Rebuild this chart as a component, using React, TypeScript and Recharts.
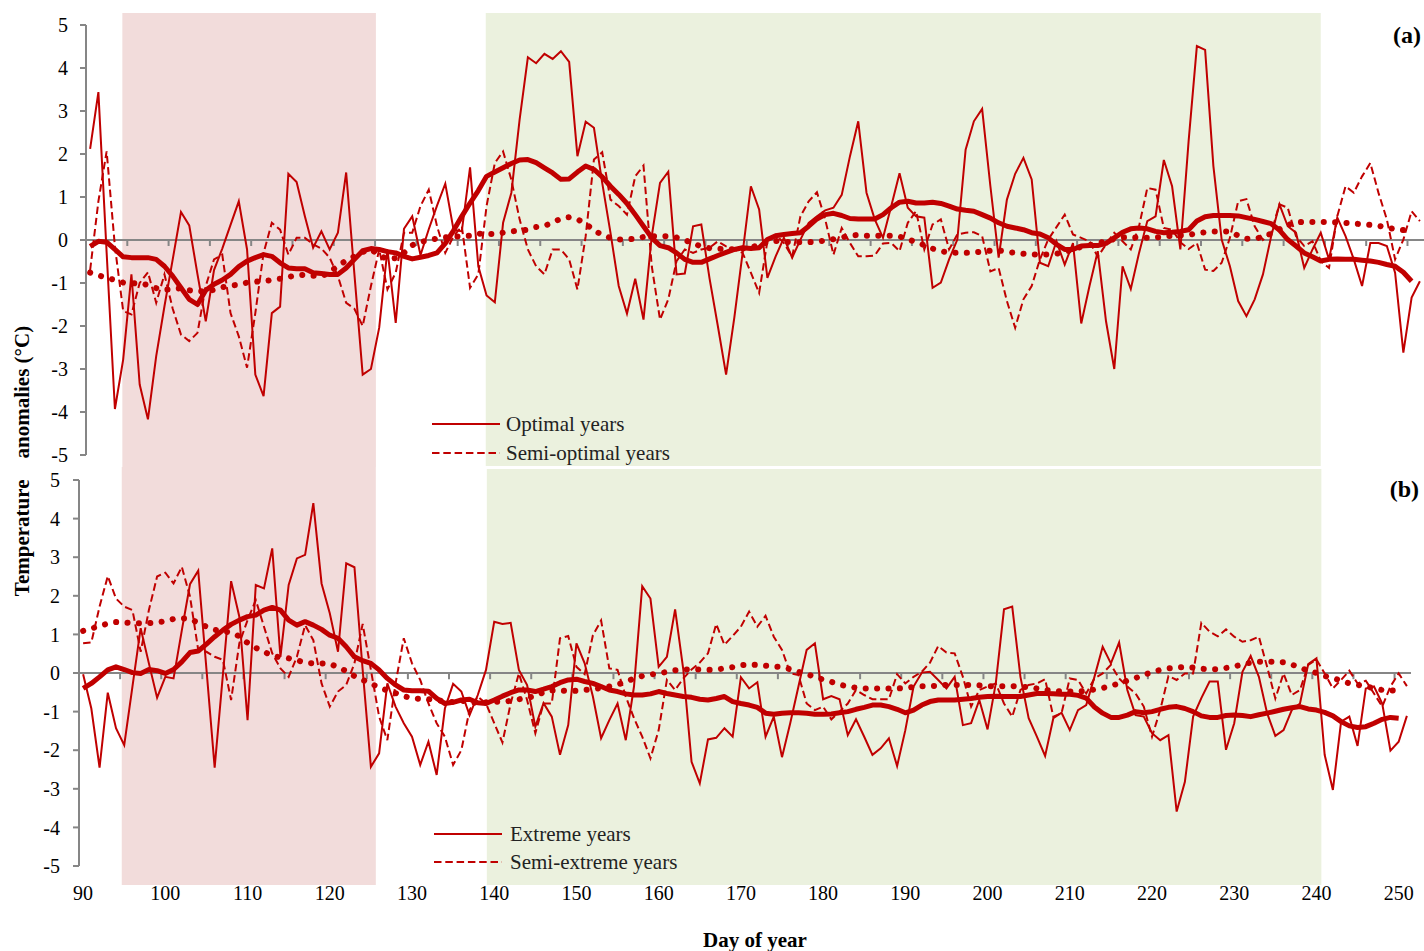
import React from "react";
import {
  LineChart,
  Line,
  XAxis,
  YAxis,
  ReferenceArea,
  ReferenceLine,
  Legend,
} from "recharts";

// day of year, 90..251
const DAYS = Array.from({ length: 162 }, (_, i) => 90 + i);
const X_LABELS = [90, 100, 110, 120, 130, 140, 150, 160, 170, 180, 190, 200, 210, 220, 230, 240, 250];
const Y_TICKS = [-5, -4, -3, -2, -1, 0, 1, 2, 3, 4, 5];
// small tick marks sit between categories on the zero line
const ZERO_TICKS = Array.from({ length: 32 }, (_, i) => 94.5 + 5 * i);

// (a) optimal / semi-optimal years, daily anomalies
const OPTIMAL = [
  2.12, 3.44, -0.3, -3.93, -2.78, -0.8, -3.36, -4.17, -2.7, -1.54,
  -0.45, 0.65, 0.34, -0.8, -1.89, -0.7, -0.2, 0.35, 0.9, -0.22,
  -3.13, -3.63, -1.7, -1.55, 1.54, 1.35, 0.55, -0.18, 0.2, -0.22,
  0.17, 1.57, -0.8, -3.13, -3.0, -2.04, -0.22, -1.93, 0.26, 0.55,
  -0.35, 0.25, 0.8, 1.31, 0.24, 0.2, 1.69, -0.61, -1.29, -1.45,
  0.4, 1.1, 2.8, 4.25, 4.11, 4.33, 4.21, 4.39, 4.14, 1.95,
  2.75, 2.61, 1.33, 0.17, -1.07, -1.71, -0.9, -1.85, 0.09, 1.33,
  1.59, -0.8, -0.78, 0.32, 0.36, -0.9, -2.0, -3.13, -1.8, -0.3,
  1.25, 0.71, -0.88, -0.38, 0.05, -0.41, 0.01, 0.4, 0.55, 0.69,
  0.75, 1.05, 1.95, 2.76, 1.1, 0.48, 0.05, 0.79, 1.55, 0.75,
  0.55, 0.52, -1.11, -0.99, -0.45, 0.01, 2.1, 2.76, 3.05, 1.25,
  -0.41, 0.94, 1.54, 1.91, 1.41, -0.53, -0.61, -0.03, -0.57, -0.07,
  -1.94, -1.07, -0.26, -1.89, -3.0, -0.61, -1.14, -0.3, 0.44, 0.55,
  1.86, 1.25, -0.22, 2.3, 4.51, 4.42, 1.72, 0.01, -0.61, -1.42,
  -1.77, -1.38, -0.8, 0.09, 0.83, 0.32, 0.17, -0.65, -0.22, 0.17,
  -0.45, 0.52, 0.09, -0.45, -1.07, -0.07, -0.07, -0.14, -0.76, -2.62,
  -1.34, -0.96,
];
const SEMI_OPTIMAL = [
  -0.7, 0.9, 2.06, -0.15, -1.65, -1.73, -1.0, -0.75, -1.46, -0.8,
  -1.6, -2.2, -2.35, -2.16, -1.07, -0.45, -0.34, -1.7, -2.24, -2.97,
  -1.7, -0.3, 0.4, 0.24, -0.34, 0.05, 0.05, -0.1, -0.2, -0.41,
  -0.84, -1.46, -1.6, -2.0, -1.07, -0.22, -1.15, -0.76, 0.17, 0.17,
  0.79, 1.17, 0.32, -0.3, 0.09, 0.32, -1.11, -0.8, 0.79, 1.79,
  2.06, 1.4, 0.48, -0.22, -0.61, -0.8, -0.22, -0.22, -0.45, -1.15,
  0.09, 1.87, 2.04, 0.94, 0.79, 0.59, 1.48, 1.73, -0.61, -1.85,
  -1.38, -0.49, -0.22, -0.3, -0.22, -0.18, -0.03, -0.15, -0.22, -0.3,
  -0.76, -1.23, -0.03, 0.12, -0.07, -0.39, 0.55, 0.9, 1.11, 0.48,
  -0.34, 0.28, -0.07, -0.38, -0.38, -0.36, -0.08, -0.07, -0.26, 0.4,
  0.67, -0.22, 0.36, 0.48, -0.22, 0.13, 0.17, 0.18, 0.09, -0.73,
  -0.65, -1.42, -2.04, -1.38, -1.07, -0.45, 0.01, 0.3, 0.59, 0.13,
  0.05, -0.03, -0.39, -0.1, 0.17, -0.03, -0.22, 0.32, 1.21, 1.17,
  0.28, 0.24, -0.05, -0.21, -0.07, -0.69, -0.72, -0.53, 0.05, 0.9,
  0.95, 0.32, 0.0, 0.17, 0.83, 0.75, 0.09, -0.14, -0.03, -0.49,
  -0.65, 0.55, 1.25, 1.1, 1.48, 1.79, 1.09, 0.48, -0.45, 0.01,
  0.67, 0.44,
];
// smoothed curves, days 90..250
const OPTIMAL_AVG = [
  -0.15, -0.03, -0.05, -0.22, -0.39, -0.41, -0.41, -0.41, -0.45, -0.61,
  -0.84, -1.11, -1.38, -1.5, -1.17, -1.03, -0.93, -0.8, -0.62, -0.49,
  -0.41, -0.34, -0.38, -0.53, -0.65, -0.67, -0.67, -0.76, -0.78, -0.8,
  -0.8, -0.65, -0.45, -0.25, -0.2, -0.22, -0.27, -0.3, -0.38, -0.44,
  -0.4, -0.36, -0.3, -0.08, 0.22, 0.55, 0.86, 1.15, 1.48, 1.58,
  1.68, 1.78, 1.86, 1.87, 1.8, 1.68, 1.56, 1.41, 1.42, 1.58,
  1.72, 1.64, 1.47, 1.25, 1.06, 0.85, 0.59, 0.32, 0.05, -0.13,
  -0.18, -0.3, -0.45, -0.52, -0.52, -0.44, -0.36, -0.29, -0.22, -0.18,
  -0.2, -0.18, 0.01, 0.1, 0.13, 0.15, 0.17, 0.32, 0.49, 0.59,
  0.62, 0.57, 0.5, 0.49, 0.49, 0.49, 0.59, 0.75, 0.88, 0.9,
  0.86, 0.86, 0.88, 0.85, 0.79, 0.72, 0.69, 0.67, 0.59, 0.51,
  0.4, 0.32, 0.28, 0.24, 0.17, 0.14, 0.05, -0.1, -0.22, -0.22,
  -0.14, -0.13, -0.13, -0.08, 0.05, 0.18, 0.26, 0.28, 0.26, 0.2,
  0.17, 0.18, 0.2, 0.24, 0.44, 0.54, 0.57, 0.57, 0.57, 0.56,
  0.52, 0.48, 0.43, 0.38, 0.23, 0.01, -0.14, -0.3, -0.39, -0.49,
  -0.45, -0.44, -0.45, -0.45, -0.47, -0.49, -0.52, -0.57, -0.61, -0.75,
  -0.96,
];
const SEMI_OPTIMAL_AVG = [
  -0.76, -0.82, -0.88, -0.93, -0.99, -1.01, -1.0, -1.05, -1.12, -1.16,
  -1.14, -1.12, -1.17, -1.19, -1.19, -1.16, -1.1, -1.06, -1.04, -0.99,
  -0.97, -0.96, -0.93, -0.9, -0.86, -0.82, -0.81, -0.83, -0.85, -0.75,
  -0.6, -0.48, -0.38, -0.28, -0.22, -0.35, -0.45, -0.42, -0.3, -0.12,
  -0.05, 0.0, 0.03, 0.06, 0.08, 0.08, 0.1, 0.15, 0.14, 0.14,
  0.17, 0.2, 0.22, 0.24, 0.3, 0.33, 0.4, 0.5, 0.53, 0.48,
  0.38, 0.22, 0.12, 0.05, 0.01, 0.01, 0.03, 0.07, 0.09, 0.09,
  0.09, 0.06, 0.0, -0.08, -0.15, -0.19, -0.2, -0.22, -0.21, -0.2,
  -0.17, -0.12, -0.05, -0.02, -0.04, -0.05, -0.05, -0.05, -0.04, -0.01,
  0.02, 0.06, 0.1, 0.12, 0.1, 0.1, 0.1, 0.1, 0.08, 0.02,
  -0.05, -0.12, -0.2, -0.26, -0.29, -0.3, -0.3, -0.29, -0.27, -0.25,
  -0.24, -0.27, -0.3, -0.32, -0.34, -0.34, -0.34, -0.32, -0.28, -0.22,
  -0.16, -0.12, -0.07, -0.03, 0.02, 0.06, 0.07, 0.05, 0.05, 0.06,
  0.08, 0.1, 0.11, 0.12, 0.15, 0.18, 0.2, 0.2, 0.2, 0.1,
  0.03, 0.03, 0.07, 0.15, 0.25, 0.35, 0.41, 0.42, 0.42, 0.42,
  0.42, 0.41, 0.4, 0.38, 0.37, 0.35, 0.33, 0.29, 0.25, 0.23,
  0.23,
];

// (b) extreme / semi-extreme years
const EXTREME = [
  -0.03, -0.92, -2.45, -0.51, -1.43, -1.87, -0.35, 1.16, 0.25, -0.64,
  -0.1, -0.14, 1.1, 2.3, 2.65, 0.1, -2.45, -0.05, 2.38, 1.46,
  -1.22, 2.28, 2.19, 3.23, 0.42, 2.28, 2.97, 3.06, 4.4, 2.32,
  1.55, 0.55, 2.84, 2.74, 0.08, -2.43, -2.08, -0.27, -0.87, -1.3,
  -1.65, -2.38, -1.78, -2.64, -0.92, -0.28, -0.48, -1.09, -0.57, 0.08,
  1.33, 1.27, 1.3, 0.08, -0.31, -1.39, -0.78, -1.13, -2.12, -1.35,
  0.77, 0.25, -0.61, -1.69, -1.22, -0.79, -1.74, -0.35, 2.25, 1.93,
  0.16, 0.42, 1.65, 0.08, -2.3, -2.86, -1.72, -1.68, -1.43, -1.65,
  -0.11, -0.4, -0.24, -1.65, -1.13, -2.18, -1.3, -0.35, 0.6, 0.77,
  -0.68, -0.6, -0.68, -1.61, -1.2, -1.65, -2.12, -1.95, -1.69, -2.41,
  -1.48, -0.35, 0.01, 0.03, -0.18, -0.4, -0.1, -1.35, -1.3, -0.7,
  -1.46, -0.27, 1.65, 1.72, -0.1, -1.17, -1.65, -2.15, -1.17, -1.03,
  -1.48, -0.96, -0.83, -0.1, 0.68, 0.25, 0.79, -0.44, -1.09, -1.13,
  -1.56, -1.74, -1.61, -3.59, -2.82, -1.13, -0.65, -0.22, -0.22, -1.99,
  -1.3, 0.03, 0.44, -0.1, -1.04, -1.63, -1.48, -0.96, -0.79, 0.23,
  0.38, -2.12, -3.03, -1.26, -1.13, -1.89, -0.4, -0.35, -0.79, -2.01,
  -1.78, -1.11,
];
const SEMI_EXTREME = [
  0.77, 0.79, 1.72, 2.51, 1.93, 1.72, 1.63, 0.55, 1.63, 2.5,
  2.6, 2.32, 2.75, 1.98, 0.6, 0.55, 0.42, 0.34, -0.7, 0.77,
  1.37, 1.89, 1.2, 0.51, 0.12, -0.1, 0.42, 1.24, 0.85, -0.27,
  -0.87, -0.48, -0.31, 0.25, 1.27, 0.08, -1.13, -1.74, -0.27, 0.9,
  0.25, -0.18, -0.79, -1.3, -1.65, -2.38, -2.0, -0.96, -0.61, -0.79,
  -1.3, -1.8, -0.79, -0.01, -0.7, -1.56, -0.79, -0.79, 0.9, 0.96,
  0.16, -0.03, 0.98, 1.36, 0.12, 0.08, -0.61, -1.17, -1.65, -2.21,
  -1.48, -0.18, -0.44, -0.14, 0.09, 0.27, 0.51, 1.27, 0.73, 0.96,
  1.2, 1.59, 1.2, 1.48, 0.94, 0.6, -0.01, -0.05, -0.79, -0.96,
  -0.87, -1.2, -1.0, -0.79, -0.44, -0.57, -0.68, -0.68, -0.68, -0.03,
  -0.27, -0.1, 0.03, 0.27, 0.7, 0.53, 0.51, -0.1, -0.87, -0.44,
  -0.35, -0.27, -0.79, -1.13, -0.44, -0.31, -0.27, -0.16, -1.13, -1.04,
  -0.14, -0.18, -0.53, -0.14, -0.01, 0.21, -0.14, -0.35, -0.53, -0.87,
  -1.65, -0.96, -0.08, -0.18, -0.01, -0.01, 1.3, 1.07, 0.95, 1.13,
  0.94, 0.81, 0.85, 0.94, 0.16, -0.66, -0.01, -0.57, -0.44, 0.21,
  0.35, -0.01, -0.4, -0.18, 0.06, -0.27, -0.2, -0.53, -0.87, -0.35,
  -0.01, -0.34,
];
const EXTREME_AVG = [
  -0.4, -0.27, -0.1, 0.08, 0.16, 0.09, 0.01, -0.01, 0.09, 0.06,
  -0.01, 0.09, 0.29, 0.53, 0.57, 0.75, 0.94, 1.11, 1.26, 1.37,
  1.46, 1.5, 1.63, 1.7, 1.63, 1.37, 1.24, 1.33, 1.24, 1.13,
  0.98, 0.9, 0.68, 0.42, 0.32, 0.25, 0.08, -0.14, -0.31, -0.44,
  -0.46, -0.46, -0.47, -0.66, -0.79, -0.76, -0.7, -0.68, -0.77, -0.79,
  -0.7, -0.6, -0.51, -0.44, -0.44, -0.48, -0.42, -0.35, -0.25, -0.18,
  -0.16, -0.22, -0.27, -0.35, -0.44, -0.48, -0.54, -0.57, -0.57, -0.54,
  -0.48, -0.53, -0.57, -0.61, -0.63, -0.68, -0.7, -0.66, -0.61, -0.74,
  -0.79, -0.83, -0.89, -1.04, -1.07, -1.04, -1.03, -1.03, -1.04, -1.07,
  -1.07, -1.06, -1.03, -1.0, -0.94, -0.89, -0.83, -0.83, -0.87, -0.94,
  -1.03, -0.96, -0.83, -0.74, -0.7, -0.7, -0.7, -0.68, -0.66, -0.63,
  -0.61, -0.6, -0.61, -0.61, -0.61, -0.57, -0.53, -0.53, -0.54, -0.55,
  -0.55, -0.58, -0.65, -0.88, -1.04, -1.15, -1.15, -1.09, -1.0, -1.03,
  -1.0, -0.94, -0.89, -0.87, -0.92, -1.0, -1.11, -1.15, -1.15, -1.1,
  -1.09, -1.1, -1.13, -1.08, -1.04, -0.99, -0.94, -0.9, -0.87, -0.93,
  -0.96, -1.02, -1.11, -1.26, -1.37, -1.41, -1.39, -1.3, -1.2, -1.15,
  -1.17,
];
const SEMI_EXTREME_AVG = [
  1.09, 1.15, 1.22, 1.28, 1.32, 1.31, 1.29, 1.29, 1.29, 1.31,
  1.34, 1.4, 1.42, 1.4, 1.3, 1.2, 1.12, 1.08, 1.05, 0.95,
  0.78, 0.65, 0.55, 0.45, 0.4, 0.38, 0.33, 0.27, 0.25, 0.25,
  0.24, 0.15, 0.05, -0.08, -0.18, -0.27, -0.38, -0.45, -0.52, -0.6,
  -0.65, -0.67, -0.68, -0.7, -0.74, -0.75, -0.72, -0.75, -0.78, -0.76,
  -0.74, -0.75, -0.72, -0.68, -0.64, -0.6, -0.5, -0.45, -0.45, -0.47,
  -0.46, -0.44, -0.42, -0.39, -0.35, -0.3, -0.23, -0.14, -0.08, -0.04,
  -0.01, 0.03, 0.07, 0.09, 0.09, 0.09, 0.08, 0.09, 0.12, 0.15,
  0.2, 0.22, 0.21, 0.19, 0.17, 0.15, 0.1, 0.03, -0.03, -0.1,
  -0.17, -0.23, -0.3, -0.35, -0.38, -0.4, -0.4, -0.4, -0.4, -0.4,
  -0.39, -0.36, -0.34, -0.34, -0.33, -0.31, -0.31, -0.31, -0.31, -0.32,
  -0.34, -0.34, -0.34, -0.34, -0.35, -0.37, -0.4, -0.44, -0.46, -0.48,
  -0.48, -0.48, -0.46, -0.43, -0.39, -0.33, -0.27, -0.2, -0.13, -0.05,
  0.02, 0.08, 0.12, 0.14, 0.16, 0.14, 0.11, 0.1, 0.1, 0.13,
  0.17, 0.22, 0.27, 0.29, 0.29, 0.29, 0.28, 0.22, 0.14, 0.06,
  0.0, -0.08, -0.13, -0.2, -0.27, -0.31, -0.34, -0.4, -0.44, -0.45,
  -0.47,
];

// shaded periods (days), per panel
const PINK_A = [93.9, 124.6];
const GREEN_A = [137.9, 239.0];
const PINK_B = [94.7, 125.6];
const GREEN_B = [139.1, 240.6];

const RED = "#c00000";
const GREY = "#868686";
const PINK = "#f2dcdb";
const GREEN = "#ebf1de";
const FONT = '"Liberation Serif", "Times New Roman", serif';
const DASH = "7.5 3.8";

function buildRows(daily: number[], semi: number[], avg: number[], semiAvg: number[]) {
  return DAYS.map((day, i) => ({
    day,
    daily: daily[i] ?? null,
    semi: semi[i] ?? null,
    avg: avg[i] ?? null,
    semiAvg: semiAvg[i] ?? null,
  }));
}

// eslint-disable-next-line @typescript-eslint/no-explicit-any
function SeriesLegend({ payload, gap, rowHeight }: any) {
  // eslint-disable-next-line @typescript-eslint/no-explicit-any
  const items = (payload ?? []).filter((p: any) => p.dataKey === "daily" || p.dataKey === "semi");
  return (
    <div>
      {/* eslint-disable-next-line @typescript-eslint/no-explicit-any */}
      {items.map((p: any) => (
        <div key={p.dataKey} style={{ display: "flex", alignItems: "center", height: rowHeight }}>
          <svg width={68} height={6} style={{ display: "block" }}>
            <line
              x1={0}
              y1={3}
              x2={68}
              y2={3}
              stroke={RED}
              strokeWidth={2}
              strokeDasharray={p.dataKey === "semi" ? DASH : undefined}
            />
          </svg>
          <span style={{ marginLeft: gap, fontSize: 21, fontFamily: FONT, color: "#222", lineHeight: 1 }}>
            {p.value}
          </span>
        </div>
      ))}
    </div>
  );
}

interface PanelProps {
  rows: ReturnType<typeof buildRows>;
  names: [string, string];
  top: number;
  height: number;
  margin: { top: number; right: number; bottom: number; left: number };
  yWidth: number;
  yDomain: [number, number];
  yTickMargin: number;
  pink: number[];
  green: number[];
  greenY: [number, number];
  tickDrop: number;
  showX: boolean;
  xHeight: number;
  legendAt: { left: number; top: number; gap: number; rowHeight: number };
}

function Panel(p: PanelProps) {
  return (
    <div style={{ position: "absolute", left: 0, top: p.top }}>
      <LineChart width={1424} height={p.height} data={p.rows} margin={p.margin}>
        <XAxis
          type="number"
          dataKey="day"
          domain={[89.5, 251.5]}
          ticks={X_LABELS}
          interval={0}
          hide={!p.showX}
          height={p.xHeight}
          axisLine={false}
          tickLine={false}
          tickSize={0}
          tickMargin={1}
          tick={{ fill: "#000", fontSize: 20, fontFamily: FONT }}
        />
        <YAxis
          type="number"
          domain={p.yDomain}
          ticks={Y_TICKS}
          interval={0}
          width={p.yWidth}
          axisLine={false}
          tickLine={{ stroke: GREY, strokeWidth: 2 }}
          tickSize={6}
          tickMargin={p.yTickMargin}
          tick={{ fill: "#000", fontSize: 20, fontFamily: FONT }}
        />
        <ReferenceArea x1={p.pink[0]} x2={p.pink[1]} fill={PINK} fillOpacity={1} stroke="none" />
        <ReferenceArea
          x1={p.green[0]}
          x2={p.green[1]}
          y1={p.greenY[0]}
          y2={p.greenY[1]}
          fill={GREEN}
          fillOpacity={1}
          stroke="none"
        />
        <ReferenceLine y={0} stroke={GREY} strokeWidth={2} />
        {ZERO_TICKS.map((t) => (
          <ReferenceLine
            key={t}
            segment={[
              { x: t, y: 0 },
              { x: t, y: -p.tickDrop },
            ]}
            stroke={GREY}
            strokeWidth={2}
          />
        ))}
        <ReferenceLine
          segment={[
            { x: 89.5, y: -5 },
            { x: 89.5, y: 5 },
          ]}
          stroke={GREY}
          strokeWidth={2}
        />
        <Legend
          layout="vertical"
          align="center"
          verticalAlign="middle"
          wrapperStyle={{ left: p.legendAt.left, top: p.legendAt.top, width: 320, height: 2 * p.legendAt.rowHeight }}
          content={<SeriesLegend gap={p.legendAt.gap} rowHeight={p.legendAt.rowHeight} />}
        />
        <Line
          type="linear"
          dataKey="daily"
          name={p.names[0]}
          stroke={RED}
          strokeWidth={2}
          dot={false}
          activeDot={false}
          isAnimationActive={false}
        />
        <Line
          type="linear"
          dataKey="semi"
          name={p.names[1]}
          stroke={RED}
          strokeWidth={2}
          strokeDasharray={DASH}
          dot={false}
          activeDot={false}
          isAnimationActive={false}
        />
        <Line
          type="linear"
          dataKey="avg"
          legendType="none"
          stroke={RED}
          strokeWidth={5}
          strokeLinejoin="round"
          dot={false}
          activeDot={false}
          isAnimationActive={false}
        />
        <Line
          type="linear"
          dataKey="semiAvg"
          legendType="none"
          stroke={RED}
          strokeWidth={6}
          strokeLinecap="round"
          strokeDasharray="0.1 11.3"
          dot={false}
          activeDot={false}
          isAnimationActive={false}
        />
      </LineChart>
    </div>
  );
}

const rowsA = buildRows(OPTIMAL, SEMI_OPTIMAL, OPTIMAL_AVG, SEMI_OPTIMAL_AVG);
const rowsB = buildRows(EXTREME, SEMI_EXTREME, EXTREME_AVG, SEMI_EXTREME_AVG);

export default function App() {
  return (
    <div
      style={{
        position: "absolute",
        left: 0,
        top: 0,
        width: 1424,
        height: 951,
        background: "#fff",
        fontFamily: FONT,
        overflow: "hidden",
      }}
    >
      <Panel
        rows={rowsA}
        names={["Optimal years", "Semi-optimal years"]}
        top={0}
        height={467}
        margin={{ top: 13, right: 0, bottom: 0, left: 0 }}
        yWidth={86}
        yDomain={[-5.279, 5.279]}
        yTickMargin={12}
        pink={PINK_A}
        green={GREEN_A}
        greenY={[-5.256, 5.279]}
        tickDrop={0.14}
        showX={false}
        xHeight={0}
        legendAt={{ left: 432, top: 409.5, gap: 6, rowHeight: 29 }}
      />
      <Panel
        rows={rowsB}
        names={["Extreme years", "Semi-extreme years"]}
        top={467}
        height={484}
        margin={{ top: 0, right: 13, bottom: 0, left: 0 }}
        yWidth={79}
        yDomain={[-5.492, 5.337]}
        yTickMargin={13}
        pink={PINK_B}
        green={GREEN_B}
        greenY={[-5.492, 5.285]}
        tickDrop={0.16}
        showX={true}
        xHeight={66}
        legendAt={{ left: 434, top: 353, gap: 8, rowHeight: 28 }}
      />
      <div
        style={{
          position: "absolute",
          left: 1421,
          top: 35,
          transform: "translate(-100%, -50%)",
          fontWeight: "bold",
          fontSize: 24,
          lineHeight: 1,
        }}
      >
        (a)
      </div>
      <div
        style={{
          position: "absolute",
          left: 1419,
          top: 489,
          transform: "translate(-100%, -50%)",
          fontWeight: "bold",
          fontSize: 24,
          lineHeight: 1,
        }}
      >
        (b)
      </div>
      <div
        style={{
          position: "absolute",
          left: 22,
          top: 461,
          transform: "translate(-50%, -50%) rotate(-90deg)",
          fontWeight: "bold",
          fontSize: 21,
          lineHeight: 1,
          whiteSpace: "pre",
        }}
      >
        {"Temperature    anomalies (°C)"}
      </div>
      <div
        style={{
          position: "absolute",
          left: 755,
          top: 940,
          transform: "translate(-50%, -50%)",
          fontWeight: "bold",
          fontSize: 21,
          lineHeight: 1,
          whiteSpace: "nowrap",
        }}
      >
        Day of year
      </div>
    </div>
  );
}
